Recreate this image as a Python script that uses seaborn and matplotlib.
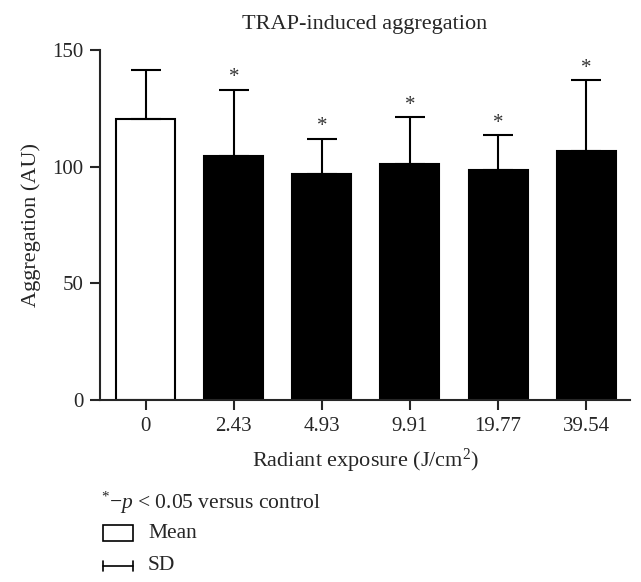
import pandas as pd
import matplotlib.pyplot as plt
import seaborn as sns
from matplotlib.patches import Rectangle
from matplotlib.lines import Line2D

exposure = ['0', '2.43', '4.93', '9.91', '19.77', '39.54']
mean_agg = [120.6, 104.5, 96.7, 101.1, 98.6, 106.7]
sd_agg = [20.7, 28.5, 15.3, 20.0, 14.8, 30.3]
significant = [False, True, True, True, True, True]
bar_colors = ['white', 'black', 'black', 'black', 'black', 'black']

data = pd.DataFrame({'exposure': exposure, 'mean': mean_agg, 'sd': sd_agg})

sns.set_style('ticks')
plt.rcParams['font.family'] = ['Liberation Serif', 'DejaVu Serif']
plt.rcParams['mathtext.fontset'] = 'custom'
plt.rcParams['mathtext.rm'] = 'Liberation Serif'
plt.rcParams['mathtext.it'] = 'Liberation Serif:italic'

fig = plt.figure(figsize=(6.41, 5.82), dpi=100)
ax = fig.add_axes([0.156, 0.3127, 0.827, 0.6013])

sns.barplot(data=data, x='exposure', y='mean', hue='exposure', palette=bar_colors,
            order=exposure, hue_order=exposure, legend=False, width=0.67,
            edgecolor='black', linewidth=1.5, errorbar=None, ax=ax)

xs = range(len(exposure))
ax.errorbar(xs, data['mean'], yerr=[[0] * len(sd_agg), data['sd']], fmt='none',
            ecolor='black', elinewidth=1.5, capsize=11, capthick=1.5, zorder=3)

for x, m, s, sig in zip(xs, mean_agg, sd_agg, significant):
    if sig:
        ax.text(x, m + s + 1.2, '*', ha='center', va='bottom', fontsize=15, color='#333333')

ax.set_xlim(-0.52, 5.5)
ax.set_ylim(0, 150)
ax.set_yticks([0, 50, 100, 150])
sns.despine(ax=ax)
for side in ['left', 'bottom']:
    ax.spines[side].set_linewidth(1.5)
ax.tick_params(axis='both', width=1.5, length=7, labelsize=15, pad=5)
ax.set_title('TRAP-induced aggregation', fontsize=16, pad=15)
ax.set_xlabel('Radiant exposure (J/cm$^2$)', fontsize=16, labelpad=8)
ax.set_ylabel('Aggregation (AU)', fontsize=16, labelpad=8)

# legend notes under the chart
fig.text(0.157, 1 - 503 / 582, r'$^{*}$$-$$\mathit{p}$ < 0.05 versus control', fontsize=15.5, va='center')
fig.patches.append(Rectangle((103 / 641, 1 - 541 / 582), 30 / 641, 16 / 582,
                             transform=fig.transFigure, facecolor='white',
                             edgecolor='black', linewidth=1.2))
fig.text(148 / 641, 1 - 533 / 582, 'Mean', fontsize=15.5, va='center')
fig.lines.append(Line2D([103 / 641, 133 / 641], [1 - 566 / 582, 1 - 566 / 582],
                        transform=fig.transFigure, color='black', linewidth=1.2))
fig.lines.append(Line2D([103 / 641, 103 / 641], [1 - 561 / 582, 1 - 571 / 582],
                        transform=fig.transFigure, color='black', linewidth=1.2))
fig.lines.append(Line2D([133 / 641, 133 / 641], [1 - 561 / 582, 1 - 571 / 582],
                        transform=fig.transFigure, color='black', linewidth=1.2))
fig.text(148 / 641, 1 - 566 / 582, 'SD', fontsize=15.5, va='center')

fig.savefig('out.png', dpi=100)
